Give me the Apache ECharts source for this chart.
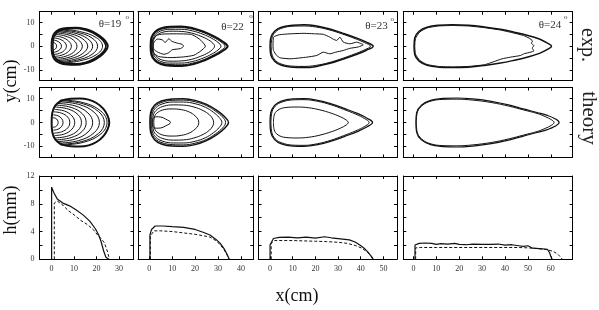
<!DOCTYPE html>
<html><head><meta charset="utf-8">
<script src="https://cdn.jsdelivr.net/npm/echarts@6/dist/echarts.min.js"></script>
<style>html,body{margin:0;padding:0;background:#fff}#c{width:599px;height:310px}</style>
</head><body><div id="c"></div>
<script>
// ---------------- data ----------------
const xTickLabels19 = [0, 10, 20, 30];
const xTickLabels22 = [0, 10, 20, 30, 40];
const xTickLabels23 = [0, 10, 20, 30, 40, 50];
const xTickLabels24 = [0, 10, 20, 30, 40, 50, 60];
const yTickLabelsCm = [-10, 0, 10];
const yTicksCm = [-10, -5, 0, 5, 10];
const yTickLabelsMm = [0, 4, 8, 12];
const yTicksMm = [0, 2, 4, 6, 8, 10, 12];
const panelAngles = ['θ=19', 'θ=22', 'θ=23', 'θ=24'];
const rowNames = ['exp.', 'theory'];

// contour half-profiles (upper half, mirrored to y<0) in cm
const exp19Outer = [[0,0],[0.2,3],[1.3,5.5],[3.5,7],[7,7.7],[11,7.8],[15,7.2],[18.5,6],[21.5,4.3],[23.8,2.3],[25,0]];
const exp19Band = [[0.6,0],[0.8,3],[1.9,5.2],[4,6.6],[7.5,7.3],[11,7.4],[15,6.8],[18.3,5.6],[21,4],[23.2,2.1],[24.2,0]];
const exp19Arcs = [
  [[0.5,1.6],[1.3,1.4],[2.0,0.8],[2.2,0]],
  [[0.8,2.6],[2.4,2.2],[3.8,1.3],[4.4,0]],
  [[1,3.5],[3.5,3],[5.7,1.75],[6.6,0]],
  [[1.3,4.3],[4.7,3.7],[7.6,2.15],[8.8,0]],
  [[1.6,5],[6,4.3],[9.8,2.5],[11.3,0]],
  [[2,5.6],[7.3,4.8],[11.8,2.8],[13.7,0]],
  [[2.5,6.1],[8.6,5.2],[13.9,3.05],[16.1,0]],
  [[3,6.5],[9.9,5.6],[15.9,3.25],[18.3,0]],
  [[3.5,6.9],[11.2,5.9],[18,3.45],[20.5,0]],
  [[4,7.2],[12.4,6.2],[19.9,3.6],[22.7,0]]
];
const theo19Outer = [[0,0],[0.3,4],[1.7,7.2],[4.5,9.2],[8.5,10],[12.5,10.1],[16.5,9.6],[20,8.2],[23,5.8],[24.9,3],[25.7,0]];
const theo19Arcs = [
  [[0.6,2],[1.8,1.75],[2.6,1],[2.9,0]],
  [[0.8,3.2],[2.9,2.8],[4.5,1.6],[5.1,0]],
  [[1,4.5],[4.5,3.9],[7.2,2.25],[8.1,0]],
  [[1.3,5.5],[5.8,4.8],[9.1,2.75],[10.3,0]],
  [[1.6,6.5],[7.4,5.65],[11.8,3.25],[13.3,0]],
  [[2,7.3],[8.7,6.35],[13.7,3.65],[15.4,0]],
  [[2.5,8],[10.4,7],[16.2,4],[18.3,0]],
  [[3,8.7],[12.1,7.6],[18.9,4.35],[21.3,0]],
  [[3.5,9.2],[13.5,8],[20.9,4.6],[23.5,0]],
  [[4,9.5],[14.3,8.3],[22,4.75],[24.7,0]]
];
const exp22Outer = [[0.6,0],[0.9,3.5],[2.5,6],[5,7.5],[9,8.2],[14,8.3],[19,7.6],[24,6],[28.5,4],[32,2],[34.2,0]];
const exp22Inner = [
  [[0.9,0],[1.2,3.3],[2.8,5.7],[5.3,7.1],[9,7.7],[14,7.8],[19,7.1],[24,5.6],[28,3.7],[31.3,1.8],[33.1,0]],
  [[1.3,0],[1.6,3],[3.2,5.3],[5.6,6.6],[9,7.1],[14,7.1],[19,6.4],[23.5,5],[27.3,3.3],[30,1.6],[31.3,0]],
  [[1.7,0],[2,2.8],[3.6,4.8],[6,5.9],[9.5,6.3],[14,6.2],[18.5,5.5],[22.5,4.2],[25.8,2.7],[27.7,1.3],[28.5,0]]
];
const exp22Ring1 = [[1.2,0],[1.5,2.5],[3,4.5],[6,5.1],[12,5.2],[18,5],[20,4.2],[22.5,2.5],[24.5,0],[22.5,-2],[19.5,-3.8],[15,-4.5],[9,-4.8],[4,-4.3],[1.8,-2.6],[1.2,0]];
const exp22Ring2 = [[1.8,0],[2,1.5],[3.5,3],[5.6,2.7],[7,1.6],[8.5,3.1],[10,2],[12.2,1.3],[14.3,0.8],[15,0],[13.6,-1],[10,-1.5],[8.6,-2.7],[6.4,-3.4],[3.5,-2.4],[2,-1.3],[1.8,0]];
const theo22Outer = [[0.3,0],[0.6,4],[2.3,7.2],[5.3,9],[10,9.9],[15,10],[20,9.3],[25,7.6],[29.5,5.1],[32.8,2.5],[34.6,0]];
const theo22Inner = [
  [[0.6,0],[0.9,3.8],[2.6,6.8],[5.6,8.5],[10,9.3],[15,9.4],[20,8.7],[25,7.1],[29,4.7],[32,2.3],[33.3,0]],
  [[1,0],[1.3,3.6],[3,6.3],[6,7.9],[10.5,8.6],[15,8.6],[20,7.9],[24.5,6.4],[28,4.3],[30.5,2.1],[31.7,0]],
  [[1.5,0],[1.8,3.2],[3.5,5.5],[6.5,6.9],[10.5,7.4],[15,7.3],[19.5,6.5],[23.5,5],[26.3,3.2],[27.7,1.5],[28.1,0]],
  [[2,0],[2.3,2.5],[3.8,4.3],[6.5,5.4],[10,5.7],[14,5.4],[17.5,4.4],[20,2.8],[21.3,1.3],[21.6,0]],
  [[1.3,0],[1.6,1.6],[3,2.4],[5,2.3],[7.2,1.4],[9.3,0]]
];
const exp23Outer = [[0,0],[0.3,3.5],[2,6.3],[5,8],[10,8.8],[15,9],[20,8.6],[26,7.3],[32,5.5],[38,3.5],[42.5,1.7],[45.5,0]];
const exp23Second = [[0.5,0],[0.8,3.3],[2.4,6],[5.3,7.6],[10,8.4],[15,8.5],[20,8.1],[26,6.9],[32,5.1],[37.5,3.2],[41.7,1.5],[44.3,0]];
const exp23Ring = [[1.3,0],[1.5,3.8],[4,4.8],[8.8,5.2],[15,5.4],[20,5.2],[23.5,5],[26.4,3.8],[28,2.9],[29.4,2.4],[30.8,3.8],[32.3,1.7],[35.2,1],[38.2,1.7],[41.1,0.6],[39,-0.3],[35.2,-0.9],[32.3,-1.8],[29,-2.5],[26.4,-3.2],[23.5,-2.5],[20.6,-3.9],[16.2,-4.6],[8.8,-5.3],[4.5,-4.9],[2.9,-3.9],[1.5,-1.8],[1.3,0]];
const theo23Outer = [[0,0],[0.3,4],[2,7.2],[5,9],[10,9.9],[15,10],[21,9.3],[27,7.8],[33,5.8],[38.5,3.8],[42.8,1.8],[45.2,0]];
const theo23Inner = [
  [[0.4,0],[0.7,3.8],[2.3,6.9],[5.3,8.6],[10,9.5],[15,9.6],[21,8.9],[27,7.4],[32.5,5.5],[37.8,3.5],[41.8,1.6],[43.7,0]],
  [[1.5,0],[1.8,3],[3.5,5.2],[7,6.3],[12,6.5],[17,6.2],[22,5.3],[27,3.9],[31,2.4],[33.5,1.1],[34.5,0]]
];
const exp24Outer = [[0.3,0],[0.6,3.5],[2.5,6.3],[6,8],[11,8.8],[17,9],[24,8.8],[31,8.1],[38,7.1],[44,5.9],[50,4.5],[55,3],[58.5,1.3],[60.3,0]];
const exp24Ring = [[0.6,0],[0.9,3.3],[2.8,6],[6,7.7],[11,8.5],[17,8.7],[24,8.5],[31,7.8],[38,6.8],[44,5.5],[48,4.5],[50.5,3.4],[52,2.2],[51.5,1.2],[52.6,0.3],[51.9,-0.8],[52.6,-2],[48.2,-3.2],[46.8,-3.9],[42.4,-4.6],[38.7,-5.3],[36,-6.2],[31,-7.8],[24,-8.5],[17,-8.7],[11,-8.5],[6,-7.7],[2.8,-6],[0.9,-3.3],[0.6,0]];
const theo24Outer = [[1.1,0],[1.4,4],[3.5,7.3],[7.5,9.3],[13,10.1],[19,10.3],[26,9.9],[34,8.9],[42,7.3],[48,5.7],[54,4.2],[58.5,3],[61.8,1.6],[63.6,0]];
const theo24Inner = [[1.3,0],[1.6,3.8],[3.7,7],[7.7,9],[13,9.7],[19,9.8],[26,9.4],[34,8.4],[42,6.8],[48,5.3],[54,3.8],[57.5,2.5],[60.2,1.2],[61.4,0]];

// thickness profiles h(x) along y=0 (x in cm, h in mm)
const h19Solid = [[0,0],[0,10.4],[1,9.6],[2.5,8.7],[5,8.1],[8,7.7],[11,7.1],[14,6.4],[17,5.5],[19.5,4.4],[21,3.5],[22,2.6],[23.2,1.2],[24.2,0.3],[25.5,0]];
const h19Dash = [[1.2,0],[1.2,8.1],[2.5,8.4],[5,7.8],[7.5,7],[10,6.4],[13,5.6],[16,5],[18.5,4.3],[20.5,3.5],[22,3],[23.5,2.4],[24.8,1.2],[25.8,0]];
const h22Solid = [[0.3,0],[0.3,3.5],[1,4.3],[2.6,4.8],[6,4.8],[10,4.7],[15,4.6],[20,4.3],[23.5,3.9],[26.5,3.5],[29,2.9],[31,2.3],[32.7,1.5],[34,0.7],[34.9,0]];
const h22Dash = [[0.5,0],[0.5,3.3],[2,4.1],[5,4.1],[10,4],[15,3.8],[20,3.6],[23.5,3.4],[26.5,3.2],[29,2.7],[31,2.1],[32.8,1.3],[34,0.6],[34.9,0]];
const h23Solid = [[0,0],[0,2.1],[1.5,3],[4,3.15],[8,3.2],[12,3.1],[16,3.2],[20,3.05],[24,3.25],[27,3.1],[31,2.95],[35,2.8],[37.5,2.5],[39.6,2.05],[41.5,1.6],[43,1.1],[44.5,0.5],[45.5,0]];
const h23Dash = [[0.5,0],[0.5,2.3],[2,2.7],[6,2.7],[10,2.7],[15,2.65],[20,2.6],[25,2.55],[30,2.45],[34,2.3],[37.5,2],[40.5,1.6],[43,1],[44.8,0.4],[45.5,0]];
const h24Solid = [[0.7,0],[0.7,2.05],[2.5,2.3],[5,2.35],[8,2.3],[10,2.15],[12,2.25],[15,2.2],[18,2.3],[20,2.15],[23,2.1],[26,2.2],[30,2.15],[34,2.15],[37,2.2],[40,2.05],[43,2.1],[46,1.95],[48,1.85],[50,1.95],[52,1.6],[55,1.55],[58.5,1.45],[59.5,0.9],[60,0.4],[60.6,0]];
const h24Dash = [[1,0],[1,1.65],[3,1.7],[10,1.7],[20,1.7],[30,1.7],[40,1.7],[46,1.7],[50,1.65],[54,1.55],[58,1.4],[61,1.15],[63,0.75],[64.3,0.3],[65,0]];

// ---------------- layout ----------------
const cols = [
  {left: 39.5, width: 94, min: -5.4, max: 36.5, labels: xTickLabels19},
  {left: 138, width: 115.3, min: -4.9, max: 45.4, labels: xTickLabels22},
  {left: 258.5, width: 138.5, min: -5.1, max: 56, labels: xTickLabels23},
  {left: 403.3, width: 169.3, min: -4.4, max: 69.5, labels: xTickLabels24}
];
const rows = [
  {top: 11.7, height: 69, min: -14.5, max: 14.5, ticks: yTicksCm, labels: yTickLabelsCm},
  {top: 87.5, height: 70, min: -14.7, max: 14.7, ticks: yTicksCm, labels: yTickLabelsCm},
  {top: 176, height: 83.3, min: 0, max: 12, ticks: yTicksMm, labels: yTickLabelsMm}
];

const mirror = up => up.concat(up.slice(0, -1).reverse().map(p => [p[0], -p[1]]));

const grid = [], xAxis = [], yAxis = [], series = [];
const labelFont = {fontFamily: 'Liberation Serif', fontSize: 8, color: '#333'};
rows.forEach((r, ri) => {
  cols.forEach((c, ci) => {
    const g = grid.length;
    grid.push({left: c.left, top: r.top, width: c.width, height: r.height, outerBoundsMode: 'none', containLabel: false});
    const tickVals = c.labels;
    const axLine = {show: true, onZero: false, lineStyle: {color: '#000', width: 1}};
    xAxis.push({type: 'value', gridIndex: g, position: 'bottom', min: c.min, max: c.max,
      axisLine: axLine, splitLine: {show: false},
      axisTick: {show: true, inside: true, length: 3, customValues: tickVals, lineStyle: {color: '#000'}},
      axisLabel: {show: ri === 2, customValues: c.labels, margin: 6, ...labelFont}});
    xAxis.push({type: 'value', gridIndex: g, position: 'top', min: c.min, max: c.max,
      axisLine: axLine, splitLine: {show: false},
      axisTick: {show: true, inside: true, length: 3, customValues: tickVals, lineStyle: {color: '#000'}},
      axisLabel: {show: false}});
    yAxis.push({type: 'value', gridIndex: g, position: 'left', min: r.min, max: r.max,
      axisLine: axLine, splitLine: {show: false},
      axisTick: {show: true, inside: true, length: 3, customValues: r.ticks, lineStyle: {color: '#000'}},
      axisLabel: {show: ci === 0, customValues: r.labels, margin: 5, ...labelFont}});
    yAxis.push({type: 'value', gridIndex: g, position: 'right', min: r.min, max: r.max,
      axisLine: axLine, splitLine: {show: false},
      axisTick: {show: true, inside: true, length: 3, customValues: r.ticks, lineStyle: {color: '#000'}},
      axisLabel: {show: false}});
  });
});

function line(g, data, opt) {
  opt = opt || {};
  series.push({type: 'line', xAxisIndex: 2 * g, yAxisIndex: 2 * g, data: data,
    symbol: 'none', showSymbol: false, smooth: opt.smooth === undefined ? 0.4 : opt.smooth,
    silent: true, animation: false, z: opt.z || 2,
    lineStyle: {color: opt.color || '#111', width: opt.width || 1, type: opt.type || 'solid'}});
}

// row 1: experiment contours
line(0, mirror(exp19Outer), {width: 2});
line(0, mirror(exp19Band), {width: 1.5});
exp19Arcs.forEach(a => line(0, mirror(a), {width: 1}));
line(1, mirror(exp22Outer), {width: 2});
exp22Inner.forEach(a => line(1, mirror(a)));
line(1, exp22Ring1, {smooth: 0.2});
line(1, exp22Ring2, {smooth: 0.2});
line(2, mirror(exp23Outer), {width: 1.5});
line(2, mirror(exp23Second));
line(2, exp23Ring, {smooth: 0.15});
line(3, mirror(exp24Outer), {width: 1.5});
line(3, exp24Ring, {smooth: 0.15});
// row 2: theory contours
line(4, mirror(theo19Outer), {width: 2});
theo19Arcs.forEach(a => line(4, mirror(a)));
line(5, mirror(theo22Outer), {width: 1.5});
theo22Inner.forEach(a => line(5, mirror(a)));
line(6, mirror(theo23Outer), {width: 1.3});
theo23Inner.forEach(a => line(6, mirror(a)));
line(7, mirror(theo24Outer), {width: 1.2});
line(7, mirror(theo24Inner), {width: 1});
// row 3: thickness profiles
line(8, h19Solid, {smooth: false, width: 1.2});
line(8, h19Dash, {smooth: false, width: 1, type: [3, 2]});
line(9, h22Solid, {smooth: false, width: 1.2});
line(9, h22Dash, {smooth: false, width: 1, type: [3, 2]});
line(10, h23Solid, {smooth: false, width: 1.2});
line(10, h23Dash, {smooth: false, width: 1, type: [3, 2]});
line(11, h24Solid, {smooth: false, width: 1.2});
line(11, h24Dash, {smooth: false, width: 1, type: [3, 2]});

// ---------------- text ----------------
const serif = 'Liberation Serif';
function txt(text, x, y, size, rot, color) {
  return {type: 'text', x: x, y: y, rotation: rot || 0, silent: true,
    style: {text: text, font: size + 'px "' + serif + '"', fill: color || '#111',
      align: 'center', verticalAlign: 'middle', textAlign: 'center', textVerticalAlign: 'middle'}};
}
const anglePos = [[110, 24.5, 127.3, 17.5], [232.5, 27.5, 251, 16.5], [376.5, 26.5, 392.3, 19], [550, 25.5, 565.7, 16.7]];
const elements = [
  txt('y(cm)', 11, 81, 18, Math.PI / 2),
  txt('h(mm)', 11.5, 210, 18, Math.PI / 2),
  txt('x(cm)', 297, 296, 18, 0),
  txt(rowNames[0], 587, 45, 20, -Math.PI / 2, '#222'),
  txt(rowNames[1], 589, 118, 21, -Math.PI / 2, '#222')
];
panelAngles.forEach((t, i) => {
  const p = anglePos[i];
  elements.push(txt(t, p[0], p[1], 11, 0, '#333'));
  elements.push(txt('o', p[2], p[3], 7, 0, '#333'));
});

const chart = echarts.init(document.getElementById('c'), null, {renderer: 'canvas'});
chart.setOption({
  animation: false,
  backgroundColor: '#fff',
  grid: grid, xAxis: xAxis, yAxis: yAxis, series: series,
  graphic: {elements: elements}
});
</script>
</body></html>
